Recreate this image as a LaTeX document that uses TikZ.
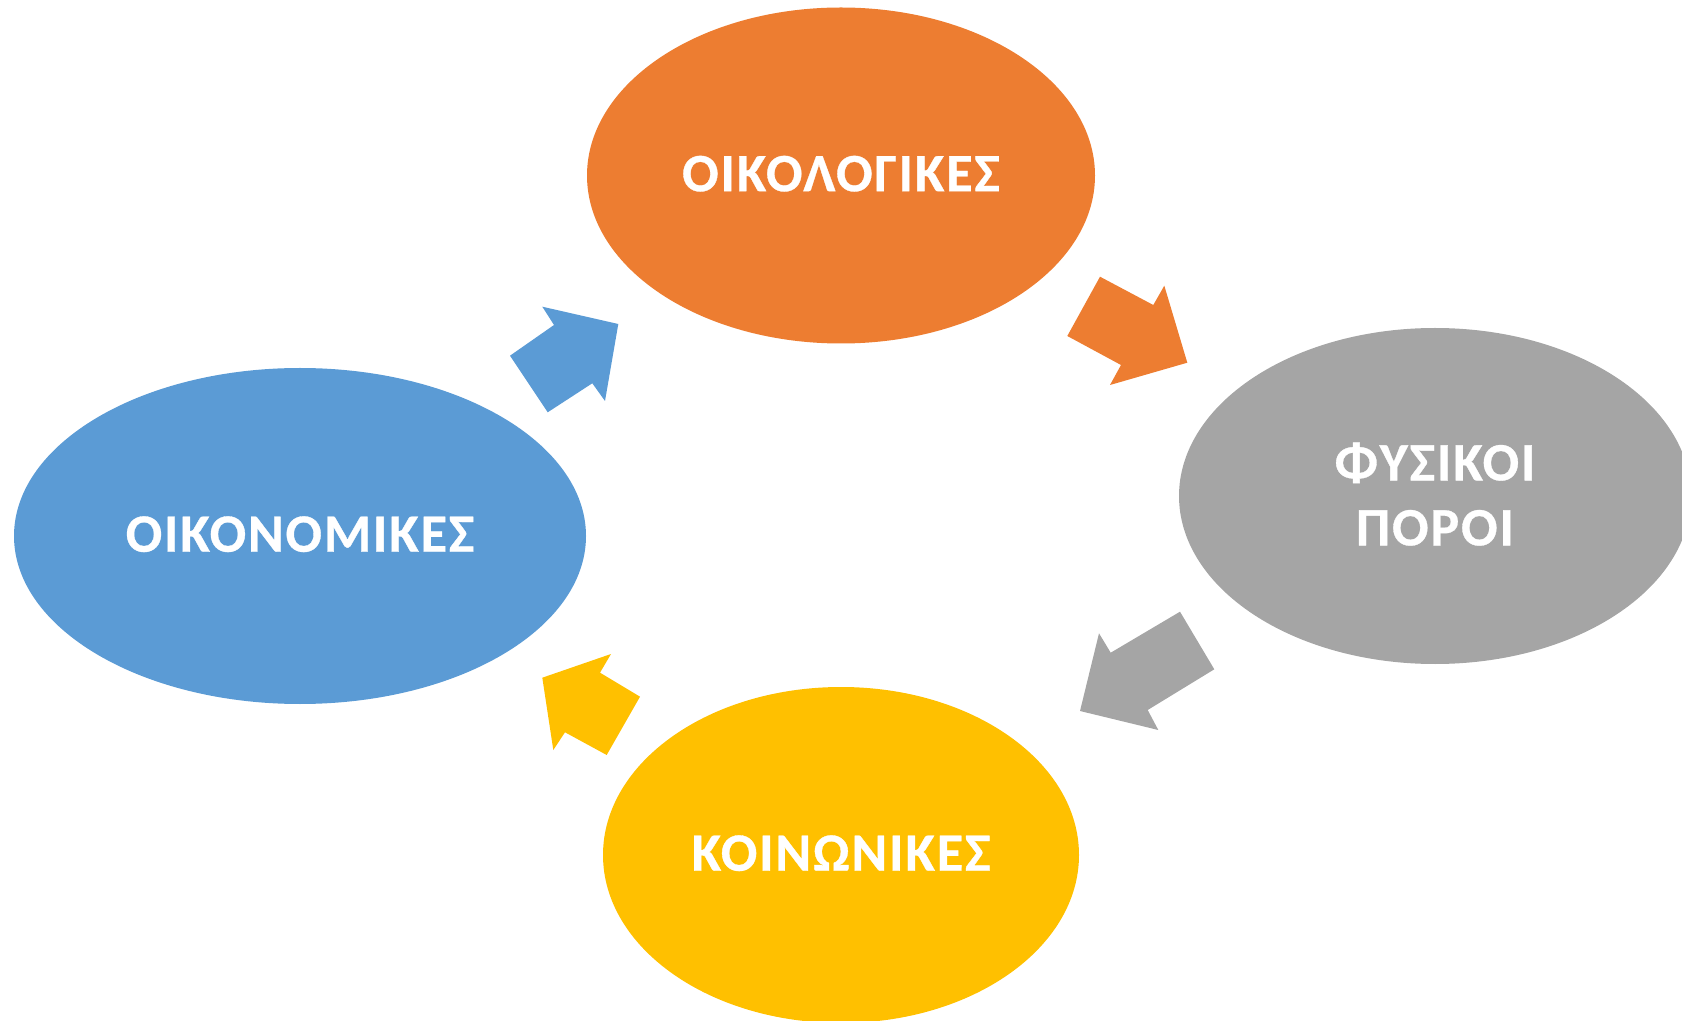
\documentclass[tikz,border=0pt]{standalone}
\usepackage{fontspec}
\newfontfamily\labelfont{Carlito Bold}[LetterSpace=3.5,FakeBold=0.6]
\usetikzlibrary{shapes.geometric}
\definecolor{corange}{HTML}{ED7D31}
\definecolor{cblue}{HTML}{5B9BD5}
\definecolor{cgray}{HTML}{A5A5A5}
\definecolor{cyellow}{HTML}{FFC000}
\tikzset{
  blob/.style={ellipse, draw=none, inner sep=0pt},
  blobtext/.style={inner sep=0pt, text=white, align=center, yshift=0.9pt,
    font=\labelfont\fontsize{27pt}{32.5pt}\selectfont},
}
\begin{document}
\begin{tikzpicture}[x=0.5pt,y=-0.5pt]
\useasboundingbox (0,0) rectangle (1682,1021);
\clip (0,0) rectangle (1682,1021);
\node[blob, fill=corange, minimum width=254pt, minimum height=168pt] (eco) at (841,175.5) {};
\node[blob, fill=cblue, minimum width=286pt, minimum height=168pt] (econ) at (300,536) {};
\node[blob, fill=cgray, minimum width=256pt, minimum height=168pt] (nat) at (1435,496) {};
\node[blob, fill=cyellow, minimum width=238pt, minimum height=168pt] (soc) at (841,855) {};
\node[blobtext] (ecoT) at (eco.center) {ΟΙΚΟΛΟΓΙΚΕΣ};
\node[blobtext] (econT) at (econ.center) {ΟΙΚΟΝΟΜΙΚΕΣ};
\node[blobtext] (natT) at (nat.center) {ΦΥΣΙΚΟΙ\\ΠΟΡΟΙ};
\node[blobtext] (socT) at (soc.center) {ΚΟΙΝΩΝΙΚΕΣ};
% blue arrow: economic -> ecological
\fill[cblue] (618.3,324) -- (542.3,306.7) -- (554,325) -- (510,355.7) -- (547.7,412.3) -- (592.3,383.3) -- (605,401) -- cycle;
% orange arrow: ecological -> natural resources
\fill[corange] (1187.3,362.7) -- (1164.3,285.7) -- (1153.3,305) -- (1100,276.7) -- (1067.3,336) -- (1121,365) -- (1110,385) -- cycle;
% gray arrow: natural resources -> social
\fill[cgray] (1080,711) -- (1158.3,730) -- (1147.7,710) -- (1214.3,669.3) -- (1180,611.7) -- (1110.7,652.7) -- (1099,633.3) -- cycle;
% yellow arrow: social -> economic
\fill[cyellow] (542.3,677.7) -- (553.3,750) -- (565,732.3) -- (606.7,755) -- (640,696.7) -- (600,672.7) -- (611,654) -- cycle;
\end{tikzpicture}
\end{document}
